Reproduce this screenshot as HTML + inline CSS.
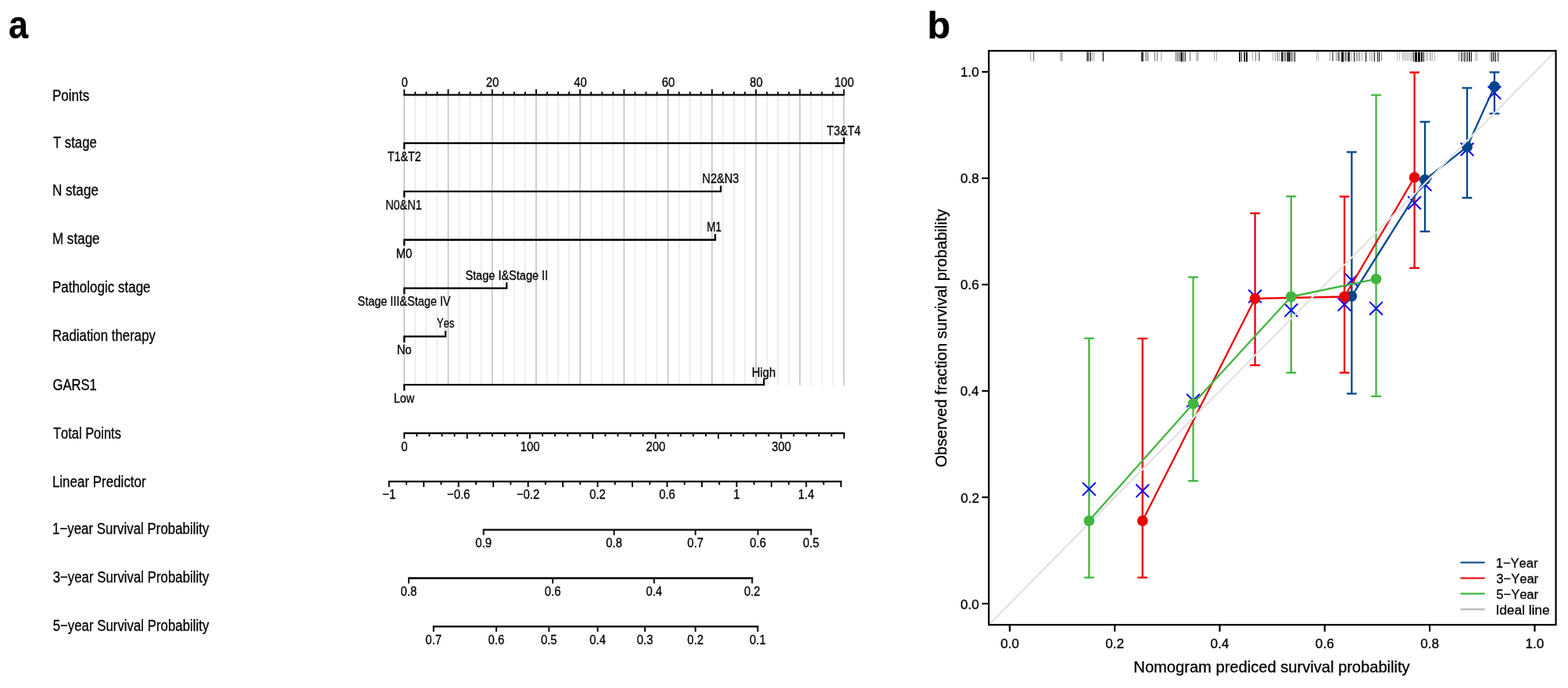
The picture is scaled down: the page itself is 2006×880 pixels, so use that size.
<!DOCTYPE html>
<html><head><meta charset="utf-8"><title>Nomogram and calibration curve</title>
<style>html,body{margin:0;padding:0;background:#fff;}svg{display:block;}text{font-kerning:none;}</style>
</head><body>
<svg width="2006" height="880" viewBox="0 0 2006 880">
<rect width="2006" height="880" fill="#fff"/>
<g stroke-width="1.6">
<line x1="531.26" y1="121.30" x2="531.26" y2="493" stroke="#eaeaea"/>
<line x1="545.32" y1="121.30" x2="545.32" y2="493" stroke="#eaeaea"/>
<line x1="559.38" y1="121.30" x2="559.38" y2="493" stroke="#eaeaea"/>
<line x1="587.50" y1="121.30" x2="587.50" y2="493" stroke="#eaeaea"/>
<line x1="601.56" y1="121.30" x2="601.56" y2="493" stroke="#eaeaea"/>
<line x1="615.62" y1="121.30" x2="615.62" y2="493" stroke="#eaeaea"/>
<line x1="643.74" y1="121.30" x2="643.74" y2="493" stroke="#eaeaea"/>
<line x1="657.80" y1="121.30" x2="657.80" y2="493" stroke="#eaeaea"/>
<line x1="671.86" y1="121.30" x2="671.86" y2="493" stroke="#eaeaea"/>
<line x1="699.98" y1="121.30" x2="699.98" y2="493" stroke="#eaeaea"/>
<line x1="714.04" y1="121.30" x2="714.04" y2="493" stroke="#eaeaea"/>
<line x1="728.10" y1="121.30" x2="728.10" y2="493" stroke="#eaeaea"/>
<line x1="756.22" y1="121.30" x2="756.22" y2="493" stroke="#eaeaea"/>
<line x1="770.28" y1="121.30" x2="770.28" y2="493" stroke="#eaeaea"/>
<line x1="784.34" y1="121.30" x2="784.34" y2="493" stroke="#eaeaea"/>
<line x1="812.46" y1="121.30" x2="812.46" y2="493" stroke="#eaeaea"/>
<line x1="826.52" y1="121.30" x2="826.52" y2="493" stroke="#eaeaea"/>
<line x1="840.58" y1="121.30" x2="840.58" y2="493" stroke="#eaeaea"/>
<line x1="868.70" y1="121.30" x2="868.70" y2="493" stroke="#eaeaea"/>
<line x1="882.76" y1="121.30" x2="882.76" y2="493" stroke="#eaeaea"/>
<line x1="896.82" y1="121.30" x2="896.82" y2="493" stroke="#eaeaea"/>
<line x1="924.94" y1="121.30" x2="924.94" y2="493" stroke="#eaeaea"/>
<line x1="939.00" y1="121.30" x2="939.00" y2="493" stroke="#eaeaea"/>
<line x1="953.06" y1="121.30" x2="953.06" y2="493" stroke="#eaeaea"/>
<line x1="981.18" y1="121.30" x2="981.18" y2="493" stroke="#eaeaea"/>
<line x1="995.24" y1="121.30" x2="995.24" y2="493" stroke="#eaeaea"/>
<line x1="1009.30" y1="121.30" x2="1009.30" y2="493" stroke="#eaeaea"/>
<line x1="1037.42" y1="121.30" x2="1037.42" y2="493" stroke="#eaeaea"/>
<line x1="1051.48" y1="121.30" x2="1051.48" y2="493" stroke="#eaeaea"/>
<line x1="1065.54" y1="121.30" x2="1065.54" y2="493" stroke="#eaeaea"/>
<line x1="517.20" y1="121.30" x2="517.20" y2="493" stroke="#c3c3c3"/>
<line x1="573.44" y1="121.30" x2="573.44" y2="493" stroke="#c3c3c3"/>
<line x1="629.68" y1="121.30" x2="629.68" y2="493" stroke="#c3c3c3"/>
<line x1="685.92" y1="121.30" x2="685.92" y2="493" stroke="#c3c3c3"/>
<line x1="742.16" y1="121.30" x2="742.16" y2="493" stroke="#c3c3c3"/>
<line x1="798.40" y1="121.30" x2="798.40" y2="493" stroke="#c3c3c3"/>
<line x1="854.64" y1="121.30" x2="854.64" y2="493" stroke="#c3c3c3"/>
<line x1="910.88" y1="121.30" x2="910.88" y2="493" stroke="#c3c3c3"/>
<line x1="967.12" y1="121.30" x2="967.12" y2="493" stroke="#c3c3c3"/>
<line x1="1023.36" y1="121.30" x2="1023.36" y2="493" stroke="#c3c3c3"/>
<line x1="1079.60" y1="121.30" x2="1079.60" y2="493" stroke="#c3c3c3"/>
</g>
<g stroke="#000" stroke-width="2.3" fill="none" stroke-linecap="butt" stroke-linejoin="miter">
<line x1="516.20" y1="121.30" x2="1080.60" y2="121.30"/>
<line x1="517.20" y1="121.30" x2="517.20" y2="114.20" stroke-width="1.9"/>
<line x1="531.26" y1="121.30" x2="531.26" y2="117.30" stroke-width="1.9"/>
<line x1="545.32" y1="121.30" x2="545.32" y2="117.30" stroke-width="1.9"/>
<line x1="559.38" y1="121.30" x2="559.38" y2="117.30" stroke-width="1.9"/>
<line x1="573.44" y1="121.30" x2="573.44" y2="114.20" stroke-width="1.9"/>
<line x1="587.50" y1="121.30" x2="587.50" y2="117.30" stroke-width="1.9"/>
<line x1="601.56" y1="121.30" x2="601.56" y2="117.30" stroke-width="1.9"/>
<line x1="615.62" y1="121.30" x2="615.62" y2="117.30" stroke-width="1.9"/>
<line x1="629.68" y1="121.30" x2="629.68" y2="114.20" stroke-width="1.9"/>
<line x1="643.74" y1="121.30" x2="643.74" y2="117.30" stroke-width="1.9"/>
<line x1="657.80" y1="121.30" x2="657.80" y2="117.30" stroke-width="1.9"/>
<line x1="671.86" y1="121.30" x2="671.86" y2="117.30" stroke-width="1.9"/>
<line x1="685.92" y1="121.30" x2="685.92" y2="114.20" stroke-width="1.9"/>
<line x1="699.98" y1="121.30" x2="699.98" y2="117.30" stroke-width="1.9"/>
<line x1="714.04" y1="121.30" x2="714.04" y2="117.30" stroke-width="1.9"/>
<line x1="728.10" y1="121.30" x2="728.10" y2="117.30" stroke-width="1.9"/>
<line x1="742.16" y1="121.30" x2="742.16" y2="114.20" stroke-width="1.9"/>
<line x1="756.22" y1="121.30" x2="756.22" y2="117.30" stroke-width="1.9"/>
<line x1="770.28" y1="121.30" x2="770.28" y2="117.30" stroke-width="1.9"/>
<line x1="784.34" y1="121.30" x2="784.34" y2="117.30" stroke-width="1.9"/>
<line x1="798.40" y1="121.30" x2="798.40" y2="114.20" stroke-width="1.9"/>
<line x1="812.46" y1="121.30" x2="812.46" y2="117.30" stroke-width="1.9"/>
<line x1="826.52" y1="121.30" x2="826.52" y2="117.30" stroke-width="1.9"/>
<line x1="840.58" y1="121.30" x2="840.58" y2="117.30" stroke-width="1.9"/>
<line x1="854.64" y1="121.30" x2="854.64" y2="114.20" stroke-width="1.9"/>
<line x1="868.70" y1="121.30" x2="868.70" y2="117.30" stroke-width="1.9"/>
<line x1="882.76" y1="121.30" x2="882.76" y2="117.30" stroke-width="1.9"/>
<line x1="896.82" y1="121.30" x2="896.82" y2="117.30" stroke-width="1.9"/>
<line x1="910.88" y1="121.30" x2="910.88" y2="114.20" stroke-width="1.9"/>
<line x1="924.94" y1="121.30" x2="924.94" y2="117.30" stroke-width="1.9"/>
<line x1="939.00" y1="121.30" x2="939.00" y2="117.30" stroke-width="1.9"/>
<line x1="953.06" y1="121.30" x2="953.06" y2="117.30" stroke-width="1.9"/>
<line x1="967.12" y1="121.30" x2="967.12" y2="114.20" stroke-width="1.9"/>
<line x1="981.18" y1="121.30" x2="981.18" y2="117.30" stroke-width="1.9"/>
<line x1="995.24" y1="121.30" x2="995.24" y2="117.30" stroke-width="1.9"/>
<line x1="1009.30" y1="121.30" x2="1009.30" y2="117.30" stroke-width="1.9"/>
<line x1="1023.36" y1="121.30" x2="1023.36" y2="114.20" stroke-width="1.9"/>
<line x1="1037.42" y1="121.30" x2="1037.42" y2="117.30" stroke-width="1.9"/>
<line x1="1051.48" y1="121.30" x2="1051.48" y2="117.30" stroke-width="1.9"/>
<line x1="1065.54" y1="121.30" x2="1065.54" y2="117.30" stroke-width="1.9"/>
<line x1="1079.60" y1="121.30" x2="1079.60" y2="114.20" stroke-width="1.9"/>
<path d="M517.20,190.72 L517.20,183.12 L1079.60,183.12 L1079.60,175.72"/>
<path d="M517.20,252.54 L517.20,244.94 L922.10,244.94 L922.10,237.54"/>
<path d="M517.20,314.36 L517.20,306.76 L915.00,306.76 L915.00,299.36"/>
<path d="M517.20,376.18 L517.20,368.58 L648.20,368.58 L648.20,361.18"/>
<path d="M517.20,438.00 L517.20,430.40 L570.00,430.40 L570.00,423.00"/>
<path d="M517.20,499.82 L517.20,492.22 L977.30,492.22 L977.30,484.82"/>
<line x1="516.20" y1="554.04" x2="1080.80" y2="554.04"/>
<line x1="517.20" y1="554.04" x2="517.20" y2="561.14" stroke-width="1.9"/>
<line x1="533.27" y1="554.04" x2="533.27" y2="558.34" stroke-width="1.9"/>
<line x1="549.35" y1="554.04" x2="549.35" y2="558.34" stroke-width="1.9"/>
<line x1="565.42" y1="554.04" x2="565.42" y2="558.34" stroke-width="1.9"/>
<line x1="581.50" y1="554.04" x2="581.50" y2="558.34" stroke-width="1.9"/>
<line x1="597.57" y1="554.04" x2="597.57" y2="561.14" stroke-width="1.9"/>
<line x1="613.65" y1="554.04" x2="613.65" y2="558.34" stroke-width="1.9"/>
<line x1="629.72" y1="554.04" x2="629.72" y2="558.34" stroke-width="1.9"/>
<line x1="645.79" y1="554.04" x2="645.79" y2="558.34" stroke-width="1.9"/>
<line x1="661.87" y1="554.04" x2="661.87" y2="558.34" stroke-width="1.9"/>
<line x1="677.94" y1="554.04" x2="677.94" y2="561.14" stroke-width="1.9"/>
<line x1="694.02" y1="554.04" x2="694.02" y2="558.34" stroke-width="1.9"/>
<line x1="710.09" y1="554.04" x2="710.09" y2="558.34" stroke-width="1.9"/>
<line x1="726.17" y1="554.04" x2="726.17" y2="558.34" stroke-width="1.9"/>
<line x1="742.24" y1="554.04" x2="742.24" y2="558.34" stroke-width="1.9"/>
<line x1="758.31" y1="554.04" x2="758.31" y2="561.14" stroke-width="1.9"/>
<line x1="774.39" y1="554.04" x2="774.39" y2="558.34" stroke-width="1.9"/>
<line x1="790.46" y1="554.04" x2="790.46" y2="558.34" stroke-width="1.9"/>
<line x1="806.54" y1="554.04" x2="806.54" y2="558.34" stroke-width="1.9"/>
<line x1="822.61" y1="554.04" x2="822.61" y2="558.34" stroke-width="1.9"/>
<line x1="838.69" y1="554.04" x2="838.69" y2="561.14" stroke-width="1.9"/>
<line x1="854.76" y1="554.04" x2="854.76" y2="558.34" stroke-width="1.9"/>
<line x1="870.83" y1="554.04" x2="870.83" y2="558.34" stroke-width="1.9"/>
<line x1="886.91" y1="554.04" x2="886.91" y2="558.34" stroke-width="1.9"/>
<line x1="902.98" y1="554.04" x2="902.98" y2="558.34" stroke-width="1.9"/>
<line x1="919.06" y1="554.04" x2="919.06" y2="561.14" stroke-width="1.9"/>
<line x1="935.13" y1="554.04" x2="935.13" y2="558.34" stroke-width="1.9"/>
<line x1="951.21" y1="554.04" x2="951.21" y2="558.34" stroke-width="1.9"/>
<line x1="967.28" y1="554.04" x2="967.28" y2="558.34" stroke-width="1.9"/>
<line x1="983.35" y1="554.04" x2="983.35" y2="558.34" stroke-width="1.9"/>
<line x1="999.43" y1="554.04" x2="999.43" y2="561.14" stroke-width="1.9"/>
<line x1="1015.50" y1="554.04" x2="1015.50" y2="558.34" stroke-width="1.9"/>
<line x1="1031.58" y1="554.04" x2="1031.58" y2="558.34" stroke-width="1.9"/>
<line x1="1047.65" y1="554.04" x2="1047.65" y2="558.34" stroke-width="1.9"/>
<line x1="1063.73" y1="554.04" x2="1063.73" y2="558.34" stroke-width="1.9"/>
<line x1="1079.80" y1="554.04" x2="1079.80" y2="561.14" stroke-width="1.9"/>
<line x1="496.70" y1="615.86" x2="1076.90" y2="615.86"/>
<line x1="497.70" y1="615.86" x2="497.70" y2="622.96" stroke-width="1.9"/>
<line x1="519.94" y1="615.86" x2="519.94" y2="620.16" stroke-width="1.9"/>
<line x1="542.18" y1="615.86" x2="542.18" y2="622.96" stroke-width="1.9"/>
<line x1="564.42" y1="615.86" x2="564.42" y2="620.16" stroke-width="1.9"/>
<line x1="586.65" y1="615.86" x2="586.65" y2="622.96" stroke-width="1.9"/>
<line x1="608.89" y1="615.86" x2="608.89" y2="620.16" stroke-width="1.9"/>
<line x1="631.13" y1="615.86" x2="631.13" y2="622.96" stroke-width="1.9"/>
<line x1="653.37" y1="615.86" x2="653.37" y2="620.16" stroke-width="1.9"/>
<line x1="675.61" y1="615.86" x2="675.61" y2="622.96" stroke-width="1.9"/>
<line x1="697.85" y1="615.86" x2="697.85" y2="620.16" stroke-width="1.9"/>
<line x1="720.08" y1="615.86" x2="720.08" y2="622.96" stroke-width="1.9"/>
<line x1="742.32" y1="615.86" x2="742.32" y2="620.16" stroke-width="1.9"/>
<line x1="764.56" y1="615.86" x2="764.56" y2="622.96" stroke-width="1.9"/>
<line x1="786.80" y1="615.86" x2="786.80" y2="620.16" stroke-width="1.9"/>
<line x1="809.04" y1="615.86" x2="809.04" y2="622.96" stroke-width="1.9"/>
<line x1="831.28" y1="615.86" x2="831.28" y2="620.16" stroke-width="1.9"/>
<line x1="853.52" y1="615.86" x2="853.52" y2="622.96" stroke-width="1.9"/>
<line x1="875.75" y1="615.86" x2="875.75" y2="620.16" stroke-width="1.9"/>
<line x1="897.99" y1="615.86" x2="897.99" y2="622.96" stroke-width="1.9"/>
<line x1="920.23" y1="615.86" x2="920.23" y2="620.16" stroke-width="1.9"/>
<line x1="942.47" y1="615.86" x2="942.47" y2="622.96" stroke-width="1.9"/>
<line x1="964.71" y1="615.86" x2="964.71" y2="620.16" stroke-width="1.9"/>
<line x1="986.95" y1="615.86" x2="986.95" y2="622.96" stroke-width="1.9"/>
<line x1="1009.18" y1="615.86" x2="1009.18" y2="620.16" stroke-width="1.9"/>
<line x1="1031.42" y1="615.86" x2="1031.42" y2="622.96" stroke-width="1.9"/>
<line x1="1053.66" y1="615.86" x2="1053.66" y2="620.16" stroke-width="1.9"/>
<line x1="1075.90" y1="615.86" x2="1075.90" y2="622.96" stroke-width="1.9"/>
<line x1="617.70" y1="677.68" x2="1038.60" y2="677.68"/>
<line x1="618.70" y1="677.68" x2="618.70" y2="684.48" stroke-width="1.9"/>
<line x1="785.60" y1="677.68" x2="785.60" y2="684.48" stroke-width="1.9"/>
<line x1="889.70" y1="677.68" x2="889.70" y2="684.48" stroke-width="1.9"/>
<line x1="969.60" y1="677.68" x2="969.60" y2="684.48" stroke-width="1.9"/>
<line x1="1037.60" y1="677.68" x2="1037.60" y2="684.48" stroke-width="1.9"/>
<line x1="521.90" y1="739.50" x2="963.30" y2="739.50"/>
<line x1="522.90" y1="739.50" x2="522.90" y2="746.30" stroke-width="1.9"/>
<line x1="707.10" y1="739.50" x2="707.10" y2="746.30" stroke-width="1.9"/>
<line x1="836.80" y1="739.50" x2="836.80" y2="746.30" stroke-width="1.9"/>
<line x1="962.30" y1="739.50" x2="962.30" y2="746.30" stroke-width="1.9"/>
<line x1="553.70" y1="801.32" x2="970.40" y2="801.32"/>
<line x1="554.70" y1="801.32" x2="554.70" y2="808.12" stroke-width="1.9"/>
<line x1="634.90" y1="801.32" x2="634.90" y2="808.12" stroke-width="1.9"/>
<line x1="702.30" y1="801.32" x2="702.30" y2="808.12" stroke-width="1.9"/>
<line x1="764.60" y1="801.32" x2="764.60" y2="808.12" stroke-width="1.9"/>
<line x1="825.10" y1="801.32" x2="825.10" y2="808.12" stroke-width="1.9"/>
<line x1="889.70" y1="801.32" x2="889.70" y2="808.12" stroke-width="1.9"/>
<line x1="969.40" y1="801.32" x2="969.40" y2="808.12" stroke-width="1.9"/>
</g>
<g font-family="Liberation Sans, Arial, sans-serif" fill="#000" stroke="#000" stroke-width="0.3">
<text transform="translate(11.08,48.70) scale(0.9130,1)" font-size="49.28" font-weight="bold">a</text>
<text transform="translate(66.90,128.70) scale(0.8220,1)" font-size="20.80">Points</text>
<text transform="translate(67.92,188.50) scale(0.8062,1)" font-size="20.80">T stage</text>
<text transform="translate(66.89,250.25) scale(0.8247,1)" font-size="20.80">N stage</text>
<text transform="translate(66.90,311.90) scale(0.8212,1)" font-size="20.80">M stage</text>
<text transform="translate(66.90,373.50) scale(0.8176,1)" font-size="20.80">Pathologic stage</text>
<text transform="translate(66.92,435.60) scale(0.8103,1)" font-size="20.80">Radiation therapy</text>
<text transform="translate(67.46,499.40) scale(0.8005,1)" font-size="20.80">GARS1</text>
<text transform="translate(67.93,561.25) scale(0.7927,1)" font-size="20.80">Total Points</text>
<text transform="translate(66.91,623.10) scale(0.8164,1)" font-size="20.80">Linear Predictor</text>
<text transform="translate(67.01,682.75) scale(0.8124,1)" font-size="20.80">1−year Survival Probability</text>
<text transform="translate(67.66,744.60) scale(0.8098,1)" font-size="20.80">3−year Survival Probability</text>
<text transform="translate(67.63,806.50) scale(0.8099,1)" font-size="20.80">5−year Survival Probability</text>
<text transform="translate(513.46,111.10) scale(0.8600,1)" font-size="17.30">0</text>
<text transform="translate(621.81,111.10) scale(0.8600,1)" font-size="17.30">20</text>
<text transform="translate(734.29,111.10) scale(0.8600,1)" font-size="17.30">40</text>
<text transform="translate(846.77,111.10) scale(0.8600,1)" font-size="17.30">60</text>
<text transform="translate(959.25,111.10) scale(0.8600,1)" font-size="17.30">80</text>
<text transform="translate(1067.59,111.10) scale(0.8600,1)" font-size="17.30">100</text>
<text transform="translate(495.73,206.00) scale(0.8291,1)" font-size="17.30">T1&amp;T2</text>
<text transform="translate(1057.83,172.75) scale(0.8349,1)" font-size="17.30">T3&amp;T4</text>
<text transform="translate(493.16,267.80) scale(0.8354,1)" font-size="17.30">N0&amp;N1</text>
<text transform="translate(898.35,234.40) scale(0.8453,1)" font-size="17.30">N2&amp;N3</text>
<text transform="translate(506.73,329.50) scale(0.8570,1)" font-size="17.30">M0</text>
<text transform="translate(904.29,296.25) scale(0.7786,1)" font-size="17.30">M1</text>
<text transform="translate(595.39,358.10) scale(0.8397,1)" font-size="17.30">Stage I&amp;Stage II</text>
<text transform="translate(457.49,391.30) scale(0.8369,1)" font-size="17.30">Stage III&amp;Stage IV</text>
<text transform="translate(558.76,419.40) scale(0.7603,1)" font-size="17.30">Yes</text>
<text transform="translate(507.63,452.60) scale(0.8563,1)" font-size="17.30">No</text>
<text transform="translate(961.73,481.70) scale(0.8627,1)" font-size="17.30">High</text>
<text transform="translate(503.76,514.80) scale(0.8366,1)" font-size="17.30">Low</text>
<text transform="translate(513.36,576.64) scale(0.8600,1)" font-size="17.30">0</text>
<text transform="translate(665.83,576.64) scale(0.8600,1)" font-size="17.30">100</text>
<text transform="translate(826.57,576.64) scale(0.8600,1)" font-size="17.30">200</text>
<text transform="translate(987.32,576.64) scale(0.8600,1)" font-size="17.30">300</text>
<text transform="translate(489.22,638.16) scale(0.8600,1)" font-size="17.30">−1</text>
<text transform="translate(571.97,638.16) scale(0.8600,1)" font-size="17.30">−0.6</text>
<text transform="translate(660.92,638.16) scale(0.8600,1)" font-size="17.30">−0.2</text>
<text transform="translate(754.22,638.16) scale(0.8600,1)" font-size="17.30">0.2</text>
<text transform="translate(843.17,638.16) scale(0.8600,1)" font-size="17.30">0.6</text>
<text transform="translate(938.33,638.16) scale(0.8600,1)" font-size="17.30">1</text>
<text transform="translate(1021.08,638.16) scale(0.8600,1)" font-size="17.30">1.4</text>
<text transform="translate(608.36,700.38) scale(0.8600,1)" font-size="17.30">0.9</text>
<text transform="translate(775.26,700.38) scale(0.8600,1)" font-size="17.30">0.8</text>
<text transform="translate(879.36,700.38) scale(0.8600,1)" font-size="17.30">0.7</text>
<text transform="translate(959.26,700.38) scale(0.8600,1)" font-size="17.30">0.6</text>
<text transform="translate(1027.26,700.38) scale(0.8600,1)" font-size="17.30">0.5</text>
<text transform="translate(512.56,762.20) scale(0.8600,1)" font-size="17.30">0.8</text>
<text transform="translate(696.76,762.20) scale(0.8600,1)" font-size="17.30">0.6</text>
<text transform="translate(826.46,762.20) scale(0.8600,1)" font-size="17.30">0.4</text>
<text transform="translate(951.96,762.20) scale(0.8600,1)" font-size="17.30">0.2</text>
<text transform="translate(544.36,824.02) scale(0.8600,1)" font-size="17.30">0.7</text>
<text transform="translate(624.56,824.02) scale(0.8600,1)" font-size="17.30">0.6</text>
<text transform="translate(691.96,824.02) scale(0.8600,1)" font-size="17.30">0.5</text>
<text transform="translate(754.26,824.02) scale(0.8600,1)" font-size="17.30">0.4</text>
<text transform="translate(814.76,824.02) scale(0.8600,1)" font-size="17.30">0.3</text>
<text transform="translate(879.36,824.02) scale(0.8600,1)" font-size="17.30">0.2</text>
<text transform="translate(959.06,824.02) scale(0.8600,1)" font-size="17.30">0.1</text>
</g>
<g stroke-width="1">
<line x1="1318.5" y1="66.5" x2="1318.5" y2="78.0" stroke="#000" stroke-opacity="0.34"/>
<line x1="1322.5" y1="66.5" x2="1322.5" y2="78.4" stroke="#000" stroke-opacity="0.61"/>
<line x1="1356.5" y1="66.5" x2="1356.5" y2="78.0" stroke="#000" stroke-opacity="0.34"/>
<line x1="1358.5" y1="66.5" x2="1358.5" y2="78.4" stroke="#000" stroke-opacity="0.61"/>
<line x1="1390.5" y1="66.5" x2="1390.5" y2="78.3" stroke="#000" stroke-opacity="0.54"/>
<line x1="1391.5" y1="66.5" x2="1391.5" y2="78.5" stroke="#000" stroke-opacity="0.68"/>
<line x1="1392.5" y1="66.5" x2="1392.5" y2="78.5" stroke="#000" stroke-opacity="0.68"/>
<line x1="1394.5" y1="66.5" x2="1394.5" y2="78.5" stroke="#000" stroke-opacity="0.68"/>
<line x1="1395.5" y1="66.5" x2="1395.5" y2="78.4" stroke="#000" stroke-opacity="0.61"/>
<line x1="1397.5" y1="66.5" x2="1397.5" y2="78.0" stroke="#000" stroke-opacity="0.34"/>
<line x1="1399.5" y1="66.5" x2="1399.5" y2="78.0" stroke="#000" stroke-opacity="0.34"/>
<line x1="1410.5" y1="66.5" x2="1410.5" y2="78.0" stroke="#000" stroke-opacity="0.34"/>
<line x1="1411.5" y1="66.5" x2="1411.5" y2="78.7" stroke="#000" stroke-opacity="0.81"/>
<line x1="1460.5" y1="66.5" x2="1460.5" y2="78.7" stroke="#000" stroke-opacity="0.81"/>
<line x1="1461.5" y1="66.5" x2="1461.5" y2="78.7" stroke="#000" stroke-opacity="0.81"/>
<line x1="1462.5" y1="66.5" x2="1462.5" y2="78.5" stroke="#000" stroke-opacity="0.68"/>
<line x1="1465.5" y1="66.5" x2="1465.5" y2="78.0" stroke="#000" stroke-opacity="0.34"/>
<line x1="1466.5" y1="66.5" x2="1466.5" y2="78.1" stroke="#000" stroke-opacity="0.41"/>
<line x1="1468.5" y1="66.5" x2="1468.5" y2="78.4" stroke="#000" stroke-opacity="0.61"/>
<line x1="1477.5" y1="66.5" x2="1477.5" y2="78.3" stroke="#000" stroke-opacity="0.54"/>
<line x1="1480.5" y1="66.5" x2="1480.5" y2="78.3" stroke="#000" stroke-opacity="0.54"/>
<line x1="1485.5" y1="66.5" x2="1485.5" y2="78.0" stroke="#000" stroke-opacity="0.34"/>
<line x1="1504.5" y1="66.5" x2="1504.5" y2="78.4" stroke="#000" stroke-opacity="0.61"/>
<line x1="1506.5" y1="66.5" x2="1506.5" y2="78.5" stroke="#000" stroke-opacity="0.68"/>
<line x1="1508.5" y1="66.5" x2="1508.5" y2="78.6" stroke="#000" stroke-opacity="0.74"/>
<line x1="1510.5" y1="66.5" x2="1510.5" y2="78.7" stroke="#000" stroke-opacity="0.81"/>
<line x1="1511.5" y1="66.5" x2="1511.5" y2="78.7" stroke="#000" stroke-opacity="0.81"/>
<line x1="1512.5" y1="66.5" x2="1512.5" y2="78.9" stroke="#000" stroke-opacity="0.94"/>
<line x1="1514.5" y1="66.5" x2="1514.5" y2="78.7" stroke="#000" stroke-opacity="0.81"/>
<line x1="1516.5" y1="66.5" x2="1516.5" y2="78.7" stroke="#000" stroke-opacity="0.81"/>
<line x1="1522.5" y1="66.5" x2="1522.5" y2="78.3" stroke="#000" stroke-opacity="0.54"/>
<line x1="1530.5" y1="66.5" x2="1530.5" y2="78.0" stroke="#000" stroke-opacity="0.34"/>
<line x1="1532.5" y1="66.5" x2="1532.5" y2="78.0" stroke="#000" stroke-opacity="0.34"/>
<line x1="1532.5" y1="66.5" x2="1532.5" y2="77.9" stroke="#000" stroke-opacity="0.27"/>
<line x1="1553.5" y1="66.5" x2="1553.5" y2="77.9" stroke="#000" stroke-opacity="0.30"/>
<line x1="1556.5" y1="66.5" x2="1556.5" y2="77.9" stroke="#000" stroke-opacity="0.30"/>
<line x1="1585.5" y1="66.5" x2="1585.5" y2="78.9" stroke="#000" stroke-opacity="0.94"/>
<line x1="1586.5" y1="66.5" x2="1586.5" y2="78.9" stroke="#000" stroke-opacity="0.94"/>
<line x1="1588.5" y1="66.5" x2="1588.5" y2="78.7" stroke="#000" stroke-opacity="0.81"/>
<line x1="1591.5" y1="66.5" x2="1591.5" y2="78.5" stroke="#000" stroke-opacity="0.68"/>
<line x1="1592.5" y1="66.5" x2="1592.5" y2="78.9" stroke="#000" stroke-opacity="0.94"/>
<line x1="1594.5" y1="66.5" x2="1594.5" y2="79.1" stroke="#000" stroke-opacity="1.00"/>
<line x1="1595.5" y1="66.5" x2="1595.5" y2="78.9" stroke="#000" stroke-opacity="0.94"/>
<line x1="1602.5" y1="66.5" x2="1602.5" y2="78.0" stroke="#000" stroke-opacity="0.34"/>
<line x1="1606.5" y1="66.5" x2="1606.5" y2="78.3" stroke="#000" stroke-opacity="0.54"/>
<line x1="1610.5" y1="66.5" x2="1610.5" y2="78.2" stroke="#000" stroke-opacity="0.47"/>
<line x1="1611.5" y1="66.5" x2="1611.5" y2="78.1" stroke="#000" stroke-opacity="0.41"/>
<line x1="1628.5" y1="66.5" x2="1628.5" y2="77.9" stroke="#000" stroke-opacity="0.27"/>
<line x1="1631.5" y1="66.5" x2="1631.5" y2="78.0" stroke="#000" stroke-opacity="0.34"/>
<line x1="1634.5" y1="66.5" x2="1634.5" y2="78.3" stroke="#000" stroke-opacity="0.54"/>
<line x1="1636.5" y1="66.5" x2="1636.5" y2="78.0" stroke="#000" stroke-opacity="0.34"/>
<line x1="1639.5" y1="66.5" x2="1639.5" y2="78.7" stroke="#000" stroke-opacity="0.81"/>
<line x1="1640.5" y1="66.5" x2="1640.5" y2="78.7" stroke="#000" stroke-opacity="0.81"/>
<line x1="1641.5" y1="66.5" x2="1641.5" y2="78.5" stroke="#000" stroke-opacity="0.68"/>
<line x1="1643.5" y1="66.5" x2="1643.5" y2="78.3" stroke="#000" stroke-opacity="0.54"/>
<line x1="1644.5" y1="66.5" x2="1644.5" y2="78.3" stroke="#000" stroke-opacity="0.54"/>
<line x1="1646.5" y1="66.5" x2="1646.5" y2="78.5" stroke="#000" stroke-opacity="0.68"/>
<line x1="1647.5" y1="66.5" x2="1647.5" y2="78.7" stroke="#000" stroke-opacity="0.81"/>
<line x1="1648.5" y1="66.5" x2="1648.5" y2="78.7" stroke="#000" stroke-opacity="0.81"/>
<line x1="1649.5" y1="66.5" x2="1649.5" y2="78.7" stroke="#000" stroke-opacity="0.81"/>
<line x1="1650.5" y1="66.5" x2="1650.5" y2="78.7" stroke="#000" stroke-opacity="0.81"/>
<line x1="1652.5" y1="66.5" x2="1652.5" y2="78.7" stroke="#000" stroke-opacity="0.81"/>
<line x1="1654.5" y1="66.5" x2="1654.5" y2="78.3" stroke="#000" stroke-opacity="0.54"/>
<line x1="1656.5" y1="66.5" x2="1656.5" y2="79.0" stroke="#000" stroke-opacity="1.00"/>
<line x1="1684.5" y1="66.5" x2="1684.5" y2="77.9" stroke="#000" stroke-opacity="0.27"/>
<line x1="1686.5" y1="66.5" x2="1686.5" y2="77.9" stroke="#000" stroke-opacity="0.27"/>
<line x1="1701.5" y1="66.5" x2="1701.5" y2="78.0" stroke="#000" stroke-opacity="0.34"/>
<line x1="1704.5" y1="66.5" x2="1704.5" y2="78.2" stroke="#000" stroke-opacity="0.47"/>
<line x1="1705.5" y1="66.5" x2="1705.5" y2="78.2" stroke="#000" stroke-opacity="0.47"/>
<line x1="1709.5" y1="66.5" x2="1709.5" y2="78.1" stroke="#000" stroke-opacity="0.41"/>
<line x1="1711.5" y1="66.5" x2="1711.5" y2="78.2" stroke="#000" stroke-opacity="0.47"/>
<line x1="1712.5" y1="66.5" x2="1712.5" y2="78.2" stroke="#000" stroke-opacity="0.47"/>
<line x1="1713.5" y1="66.5" x2="1713.5" y2="78.2" stroke="#000" stroke-opacity="0.47"/>
<line x1="1716.5" y1="66.5" x2="1716.5" y2="79.1" stroke="#000" stroke-opacity="1.00"/>
<line x1="1717.5" y1="66.5" x2="1717.5" y2="79.1" stroke="#000" stroke-opacity="1.00"/>
<line x1="1718.5" y1="66.5" x2="1718.5" y2="79.1" stroke="#000" stroke-opacity="1.00"/>
<line x1="1720.5" y1="66.5" x2="1720.5" y2="78.2" stroke="#000" stroke-opacity="0.47"/>
<line x1="1721.5" y1="66.5" x2="1721.5" y2="78.2" stroke="#000" stroke-opacity="0.47"/>
<line x1="1722.5" y1="66.5" x2="1722.5" y2="78.2" stroke="#000" stroke-opacity="0.47"/>
<line x1="1724.5" y1="66.5" x2="1724.5" y2="78.7" stroke="#000" stroke-opacity="0.81"/>
<line x1="1725.5" y1="66.5" x2="1725.5" y2="78.7" stroke="#000" stroke-opacity="0.81"/>
<line x1="1726.5" y1="66.5" x2="1726.5" y2="78.7" stroke="#000" stroke-opacity="0.81"/>
<line x1="1728.5" y1="66.5" x2="1728.5" y2="78.0" stroke="#000" stroke-opacity="0.34"/>
<line x1="1732.5" y1="66.5" x2="1732.5" y2="78.9" stroke="#000" stroke-opacity="0.94"/>
<line x1="1735.5" y1="66.5" x2="1735.5" y2="78.2" stroke="#000" stroke-opacity="0.47"/>
<line x1="1737.5" y1="66.5" x2="1737.5" y2="78.2" stroke="#000" stroke-opacity="0.47"/>
<line x1="1739.5" y1="66.5" x2="1739.5" y2="78.3" stroke="#000" stroke-opacity="0.54"/>
<line x1="1742.5" y1="66.5" x2="1742.5" y2="78.0" stroke="#000" stroke-opacity="0.34"/>
<line x1="1747.5" y1="66.5" x2="1747.5" y2="79.0" stroke="#000" stroke-opacity="1.00"/>
<line x1="1752.5" y1="66.5" x2="1752.5" y2="78.0" stroke="#000" stroke-opacity="0.34"/>
<line x1="1754.5" y1="66.5" x2="1754.5" y2="78.0" stroke="#000" stroke-opacity="0.34"/>
<line x1="1756.5" y1="66.5" x2="1756.5" y2="78.0" stroke="#000" stroke-opacity="0.34"/>
<line x1="1758.5" y1="66.5" x2="1758.5" y2="78.9" stroke="#000" stroke-opacity="0.94"/>
<line x1="1762.5" y1="66.5" x2="1762.5" y2="78.9" stroke="#000" stroke-opacity="0.94"/>
<line x1="1764.5" y1="66.5" x2="1764.5" y2="78.9" stroke="#000" stroke-opacity="0.94"/>
<line x1="1767.5" y1="66.5" x2="1767.5" y2="78.1" stroke="#000" stroke-opacity="0.41"/>
<line x1="1787.5" y1="66.5" x2="1787.5" y2="77.9" stroke="#000" stroke-opacity="0.27"/>
<line x1="1790.5" y1="66.5" x2="1790.5" y2="77.9" stroke="#000" stroke-opacity="0.27"/>
<line x1="1794.5" y1="66.5" x2="1794.5" y2="77.9" stroke="#000" stroke-opacity="0.30"/>
<line x1="1796.5" y1="66.5" x2="1796.5" y2="77.9" stroke="#000" stroke-opacity="0.30"/>
<line x1="1798.5" y1="66.5" x2="1798.5" y2="77.9" stroke="#000" stroke-opacity="0.30"/>
<line x1="1800.5" y1="66.5" x2="1800.5" y2="77.9" stroke="#000" stroke-opacity="0.30"/>
<line x1="1802.5" y1="66.5" x2="1802.5" y2="77.9" stroke="#000" stroke-opacity="0.30"/>
<line x1="1804.5" y1="66.5" x2="1804.5" y2="77.9" stroke="#000" stroke-opacity="0.30"/>
<line x1="1806.5" y1="66.5" x2="1806.5" y2="78.2" stroke="#000" stroke-opacity="0.47"/>
<line x1="1808.5" y1="66.5" x2="1808.5" y2="78.9" stroke="#000" stroke-opacity="0.94"/>
<line x1="1810.5" y1="66.5" x2="1810.5" y2="79.0" stroke="#000" stroke-opacity="1.00"/>
<line x1="1811.5" y1="66.5" x2="1811.5" y2="79.1" stroke="#000" stroke-opacity="1.00"/>
<line x1="1812.5" y1="66.5" x2="1812.5" y2="79.1" stroke="#000" stroke-opacity="1.00"/>
<line x1="1814.5" y1="66.5" x2="1814.5" y2="79.1" stroke="#000" stroke-opacity="1.00"/>
<line x1="1815.5" y1="66.5" x2="1815.5" y2="79.1" stroke="#000" stroke-opacity="1.00"/>
<line x1="1816.5" y1="66.5" x2="1816.5" y2="79.1" stroke="#000" stroke-opacity="1.00"/>
<line x1="1818.5" y1="66.5" x2="1818.5" y2="78.9" stroke="#000" stroke-opacity="0.94"/>
<line x1="1819.5" y1="66.5" x2="1819.5" y2="78.9" stroke="#000" stroke-opacity="0.94"/>
<line x1="1821.5" y1="66.5" x2="1821.5" y2="78.9" stroke="#000" stroke-opacity="0.94"/>
<line x1="1824.5" y1="66.5" x2="1824.5" y2="78.0" stroke="#000" stroke-opacity="0.34"/>
<line x1="1826.5" y1="66.5" x2="1826.5" y2="78.0" stroke="#000" stroke-opacity="0.34"/>
<line x1="1829.5" y1="66.5" x2="1829.5" y2="77.9" stroke="#000" stroke-opacity="0.30"/>
<line x1="1830.5" y1="66.5" x2="1830.5" y2="77.9" stroke="#000" stroke-opacity="0.30"/>
<line x1="1832.5" y1="66.5" x2="1832.5" y2="77.9" stroke="#000" stroke-opacity="0.30"/>
<line x1="1835.5" y1="66.5" x2="1835.5" y2="77.9" stroke="#000" stroke-opacity="0.30"/>
<line x1="1866.5" y1="66.5" x2="1866.5" y2="78.3" stroke="#000" stroke-opacity="0.54"/>
<line x1="1869.5" y1="66.5" x2="1869.5" y2="78.9" stroke="#000" stroke-opacity="0.94"/>
<line x1="1871.5" y1="66.5" x2="1871.5" y2="78.4" stroke="#000" stroke-opacity="0.61"/>
<line x1="1873.5" y1="66.5" x2="1873.5" y2="78.9" stroke="#000" stroke-opacity="0.94"/>
<line x1="1875.5" y1="66.5" x2="1875.5" y2="78.5" stroke="#000" stroke-opacity="0.68"/>
<line x1="1877.5" y1="66.5" x2="1877.5" y2="78.9" stroke="#000" stroke-opacity="0.94"/>
<line x1="1879.5" y1="66.5" x2="1879.5" y2="78.5" stroke="#000" stroke-opacity="0.68"/>
<line x1="1880.5" y1="66.5" x2="1880.5" y2="78.7" stroke="#000" stroke-opacity="0.81"/>
<line x1="1882.5" y1="66.5" x2="1882.5" y2="78.9" stroke="#000" stroke-opacity="0.94"/>
<line x1="1887.5" y1="66.5" x2="1887.5" y2="78.0" stroke="#000" stroke-opacity="0.34"/>
<line x1="1889.5" y1="66.5" x2="1889.5" y2="78.0" stroke="#000" stroke-opacity="0.34"/>
<line x1="1906.5" y1="66.5" x2="1906.5" y2="78.1" stroke="#000" stroke-opacity="0.41"/>
<line x1="1908.5" y1="66.5" x2="1908.5" y2="79.0" stroke="#000" stroke-opacity="1.00"/>
<line x1="1910.5" y1="66.5" x2="1910.5" y2="78.5" stroke="#000" stroke-opacity="0.68"/>
<line x1="1911.5" y1="66.5" x2="1911.5" y2="78.5" stroke="#000" stroke-opacity="0.68"/>
<line x1="1913.5" y1="66.5" x2="1913.5" y2="79.2" stroke="#000" stroke-opacity="1.00"/>
<line x1="1916.5" y1="66.5" x2="1916.5" y2="78.8" stroke="#000" stroke-opacity="0.88"/>
</g>
<g stroke="#00468B" stroke-width="2.3" fill="none">
<line x1="1729.3" y1="194.5" x2="1729.3" y2="503.5"/>
<line x1="1722.8999999999999" y1="194.5" x2="1735.7" y2="194.5"/>
<line x1="1722.8999999999999" y1="503.5" x2="1735.7" y2="503.5"/>
<line x1="1823.0" y1="155.8" x2="1823.0" y2="296.1"/>
<line x1="1816.6" y1="155.8" x2="1829.4" y2="155.8"/>
<line x1="1816.6" y1="296.1" x2="1829.4" y2="296.1"/>
<line x1="1876.9" y1="112.5" x2="1876.9" y2="253.0"/>
<line x1="1870.5" y1="112.5" x2="1883.3000000000002" y2="112.5"/>
<line x1="1870.5" y1="253.0" x2="1883.3000000000002" y2="253.0"/>
<line x1="1911.9" y1="92.4" x2="1911.9" y2="145.3"/>
<line x1="1905.5" y1="92.4" x2="1918.3000000000002" y2="92.4"/>
<line x1="1905.5" y1="145.3" x2="1918.3000000000002" y2="145.3"/>
</g>
<g stroke="#ED0000" stroke-width="2.3" fill="none">
<line x1="1461.7" y1="433.0" x2="1461.7" y2="738.7"/>
<line x1="1455.3" y1="433.0" x2="1468.1000000000001" y2="433.0"/>
<line x1="1455.3" y1="738.7" x2="1468.1000000000001" y2="738.7"/>
<line x1="1605.6" y1="272.8" x2="1605.6" y2="467.2"/>
<line x1="1599.1999999999998" y1="272.8" x2="1612.0" y2="272.8"/>
<line x1="1599.1999999999998" y1="467.2" x2="1612.0" y2="467.2"/>
<line x1="1720.0" y1="251.4" x2="1720.0" y2="476.7"/>
<line x1="1713.6" y1="251.4" x2="1726.4" y2="251.4"/>
<line x1="1713.6" y1="476.7" x2="1726.4" y2="476.7"/>
<line x1="1809.6" y1="92.6" x2="1809.6" y2="342.8"/>
<line x1="1803.1999999999998" y1="92.6" x2="1816.0" y2="92.6"/>
<line x1="1803.1999999999998" y1="342.8" x2="1816.0" y2="342.8"/>
</g>
<g stroke="#42B540" stroke-width="2.3" fill="none">
<line x1="1393.3" y1="432.7" x2="1393.3" y2="738.7"/>
<line x1="1386.8999999999999" y1="432.7" x2="1399.7" y2="432.7"/>
<line x1="1386.8999999999999" y1="738.7" x2="1399.7" y2="738.7"/>
<line x1="1526.5" y1="354.5" x2="1526.5" y2="615.2"/>
<line x1="1520.1" y1="354.5" x2="1532.9" y2="354.5"/>
<line x1="1520.1" y1="615.2" x2="1532.9" y2="615.2"/>
<line x1="1651.8" y1="251.2" x2="1651.8" y2="476.7"/>
<line x1="1645.3999999999999" y1="251.2" x2="1658.2" y2="251.2"/>
<line x1="1645.3999999999999" y1="476.7" x2="1658.2" y2="476.7"/>
<line x1="1760.5" y1="121.6" x2="1760.5" y2="506.9"/>
<line x1="1754.1" y1="121.6" x2="1766.9" y2="121.6"/>
<line x1="1754.1" y1="506.9" x2="1766.9" y2="506.9"/>
</g>
<g stroke="#0000FF" stroke-width="2.0" stroke-linecap="round">
<path d="M1721.5,350.6 L1737.1,366.2 M1721.5,366.2 L1737.1,350.6"/>
<path d="M1815.2,228.2 L1830.8,243.8 M1815.2,243.8 L1830.8,228.2"/>
<path d="M1869.1,183.2 L1884.7,198.8 M1869.1,198.8 L1884.7,183.2"/>
<path d="M1904.1,110.8 L1919.7,126.4 M1904.1,126.4 L1919.7,110.8"/>
</g>
<g stroke="#0000FF" stroke-width="2.0" stroke-linecap="round">
<path d="M1453.9,620.0 L1469.5,635.6 M1453.9,635.6 L1469.5,620.0"/>
<path d="M1597.8,371.3 L1613.4,386.9 M1597.8,386.9 L1613.4,371.3"/>
<path d="M1712.2,381.7 L1727.8,397.3 M1712.2,397.3 L1727.8,381.7"/>
<path d="M1801.8,251.7 L1817.4,267.3 M1801.8,267.3 L1817.4,251.7"/>
</g>
<g stroke="#0000FF" stroke-width="2.0" stroke-linecap="round">
<path d="M1385.5,617.7 L1401.1,633.3 M1385.5,633.3 L1401.1,617.7"/>
<path d="M1518.7,504.5 L1534.3,520.1 M1518.7,520.1 L1534.3,504.5"/>
<path d="M1644.0,389.0 L1659.6,404.6 M1644.0,404.6 L1659.6,389.0"/>
<path d="M1752.7,386.6 L1768.3,402.2 M1752.7,402.2 L1768.3,386.6"/>
</g>
<polyline points="1729.3,378.8 1823.0,229.9 1876.9,187.9 1911.9,110.6" fill="none" stroke="#00468B" stroke-width="2.3" stroke-linejoin="round"/>
<circle cx="1729.3" cy="378.8" r="6.9" fill="#00468B"/>
<circle cx="1823.0" cy="229.9" r="6.9" fill="#00468B"/>
<circle cx="1876.9" cy="187.9" r="6.9" fill="#00468B"/>
<circle cx="1911.9" cy="110.6" r="6.9" fill="#00468B"/>
<polyline points="1461.7,666.1 1605.6,381.8 1720.0,379.5 1809.6,226.9" fill="none" stroke="#ED0000" stroke-width="2.3" stroke-linejoin="round"/>
<circle cx="1461.7" cy="666.1" r="6.9" fill="#ED0000"/>
<circle cx="1605.6" cy="381.8" r="6.9" fill="#ED0000"/>
<circle cx="1720.0" cy="379.5" r="6.9" fill="#ED0000"/>
<circle cx="1809.6" cy="226.9" r="6.9" fill="#ED0000"/>
<line x1="1265.0" y1="799.2" x2="1990.5" y2="65.0" stroke="#e2e2e2" stroke-width="2.2"/>
<polyline points="1393.3,666.1 1526.5,516.3 1651.8,379.5 1760.5,356.8" fill="none" stroke="#42B540" stroke-width="2.3" stroke-linejoin="round"/>
<circle cx="1393.3" cy="666.1" r="6.9" fill="#42B540"/>
<circle cx="1526.5" cy="516.3" r="6.9" fill="#42B540"/>
<circle cx="1651.8" cy="379.5" r="6.9" fill="#42B540"/>
<circle cx="1760.5" cy="356.8" r="6.9" fill="#42B540"/>
<g stroke="#000" stroke-width="2.2" fill="none">
<rect x="1265.0" y="65.0" width="725.5" height="734.2"/>
<line x1="1256.2" y1="772.10" x2="1265.0" y2="772.10"/>
<line x1="1291.80" y1="799.2" x2="1291.80" y2="807.8"/>
<line x1="1256.2" y1="636.06" x2="1265.0" y2="636.06"/>
<line x1="1426.12" y1="799.2" x2="1426.12" y2="807.8"/>
<line x1="1256.2" y1="500.02" x2="1265.0" y2="500.02"/>
<line x1="1560.44" y1="799.2" x2="1560.44" y2="807.8"/>
<line x1="1256.2" y1="363.98" x2="1265.0" y2="363.98"/>
<line x1="1694.76" y1="799.2" x2="1694.76" y2="807.8"/>
<line x1="1256.2" y1="227.94" x2="1265.0" y2="227.94"/>
<line x1="1829.08" y1="799.2" x2="1829.08" y2="807.8"/>
<line x1="1256.2" y1="91.90" x2="1265.0" y2="91.90"/>
<line x1="1963.40" y1="799.2" x2="1963.40" y2="807.8"/>
</g>
<g stroke-width="2.2" stroke-linecap="round">
<line x1="1869.2" y1="719.5" x2="1898.8" y2="719.5" stroke="#00468B"/>
<line x1="1869.2" y1="739.5" x2="1898.8" y2="739.5" stroke="#ED0000"/>
<line x1="1869.2" y1="759.4" x2="1898.8" y2="759.4" stroke="#42B540"/>
<line x1="1869.2" y1="779.4" x2="1898.8" y2="779.4" stroke="#b8b8b8"/>
</g>
<g font-family="Liberation Sans, Arial, sans-serif" fill="#000" stroke="#000" stroke-width="0.3">
<text transform="translate(1186.19,48.80) scale(1.0000,1)" font-size="48.70" font-weight="bold">b</text>
<text transform="translate(1228.76,778.55) scale(0.9900,1)" font-size="17.30">0.0</text>
<text transform="translate(1279.90,828.50) scale(0.9900,1)" font-size="17.30">0.0</text>
<text transform="translate(1228.95,642.51) scale(0.9900,1)" font-size="17.30">0.2</text>
<text transform="translate(1414.22,828.50) scale(0.9900,1)" font-size="17.30">0.2</text>
<text transform="translate(1228.59,506.47) scale(0.9900,1)" font-size="17.30">0.4</text>
<text transform="translate(1548.54,828.50) scale(0.9900,1)" font-size="17.30">0.4</text>
<text transform="translate(1228.84,370.43) scale(0.9900,1)" font-size="17.30">0.6</text>
<text transform="translate(1682.86,828.50) scale(0.9900,1)" font-size="17.30">0.6</text>
<text transform="translate(1228.84,234.39) scale(0.9900,1)" font-size="17.30">0.8</text>
<text transform="translate(1817.18,828.50) scale(0.9900,1)" font-size="17.30">0.8</text>
<text transform="translate(1228.76,98.35) scale(0.9900,1)" font-size="17.30">1.0</text>
<text transform="translate(1951.50,828.50) scale(0.9900,1)" font-size="17.30">1.0</text>
<text transform="translate(1913.74,725.80) scale(0.9550,1)" font-size="17.30">1−Year</text>
<text transform="translate(1914.37,745.80) scale(0.9550,1)" font-size="17.30">3−Year</text>
<text transform="translate(1914.34,765.70) scale(0.9550,1)" font-size="17.30">5−Year</text>
<text transform="translate(1913.40,785.70) scale(1.0000,1)" font-size="17.30">Ideal line</text>
<text transform="translate(1450.35,860.30) scale(0.9680,1)" font-size="20.80">Nomogram prediced survival probability</text>
</g>
<g font-family="Liberation Sans, Arial, sans-serif" fill="#000" stroke="#000" stroke-width="0.3"><text transform="translate(1210.9,597.85) rotate(-90) scale(0.9691,1)" font-size="20.8">Observed fraction survival probability</text></g>
</svg>
</body></html>
